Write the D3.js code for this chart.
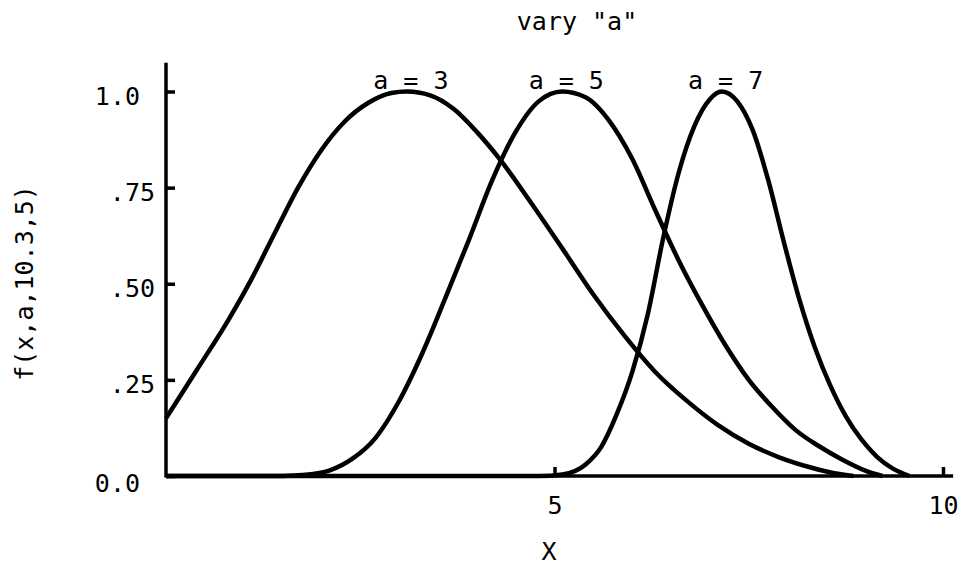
<!DOCTYPE html>
<html>
<head>
<meta charset="utf-8">
<script src="https://cdn.jsdelivr.net/npm/d3@7"></script>
<style>
  body { margin: 0; background: #fff; }
  text { font-family: "DejaVu Sans Mono", monospace; font-size: 25px; fill: #000; }
</style>
</head>
<body>
<script>
// curves, one pair of arrays per value of a
let a3x = [0, 0.4, 0.8, 1.1, 1.4, 1.7, 2.0, 2.3, 2.6, 2.9, 3.1, 3.4, 3.7, 4.0, 4.3, 4.7, 5.1, 5.5, 5.9, 6.3, 6.7, 7.1, 7.5, 7.9, 8.3, 8.6, 8.85]
let a3y = [0.15, 0.277, 0.405, 0.512, 0.632, 0.75, 0.848, 0.922, 0.97, 0.996, 1.0, 0.99, 0.955, 0.895, 0.823, 0.71, 0.592, 0.472, 0.365, 0.27, 0.196, 0.133, 0.084, 0.048, 0.022, 0.007, 0]

let a5x = [0, 1.5, 1.8, 2.1, 2.4, 2.7, 3.0, 3.3, 3.6, 3.9, 4.2, 4.5, 4.8, 5.1, 5.4, 5.7, 6.0, 6.3, 6.6, 6.9, 7.2, 7.5, 7.8, 8.1, 8.4, 8.7, 9.0, 9.22]
let a5y = [0, 0, 0.003, 0.014, 0.045, 0.1, 0.195, 0.32, 0.465, 0.615, 0.77, 0.895, 0.975, 1.0, 0.985, 0.925, 0.825, 0.69, 0.56, 0.445, 0.34, 0.25, 0.18, 0.12, 0.078, 0.043, 0.014, 0]

let a7x = [0, 4.8, 5.1, 5.4, 5.6, 5.8, 6.0, 6.2, 6.4, 6.6, 6.8, 7.0, 7.15, 7.35, 7.55, 7.75, 7.95, 8.15, 8.35, 8.55, 8.75, 8.95, 9.15, 9.35, 9.57]
let a7y = [0, 0, 0.004, 0.03, 0.075, 0.16, 0.27, 0.42, 0.62, 0.79, 0.91, 0.98, 1.0, 0.975, 0.9, 0.77, 0.61, 0.46, 0.335, 0.235, 0.155, 0.095, 0.05, 0.02, 0]

let aValues = [3, 5, 7]
let yTicks = [0, 0.25, 0.5, 0.75, 1]
let yTickLabels = ['0.0', '.25', '.50', '.75', '1.0']
let xTicks = [5, 10]
let xTickLabels = ['5', '10']

let w = 965
let h = 570

let svg = d3.select('body').append('svg').attr('width', w).attr('height', h)

let x = d3.scaleLinear().domain([0, 10]).range([166, 943])
let y = d3.scaleLinear().domain([0, 1]).range([476, 91.5])

let series = [
  { a: aValues[0], xs: a3x, ys: a3y },
  { a: aValues[1], xs: a5x, ys: a5y },
  { a: aValues[2], xs: a7x, ys: a7y }
]

// axes lines run a little past the last tick
svg.append('line')
  .attr('x1', x(0)).attr('x2', x(0))
  .attr('y1', y(0) + 1.5).attr('y2', y(1.075))
  .attr('stroke', '#000').attr('stroke-width', 3.5)

svg.append('line')
  .attr('x1', x(0)).attr('x2', x(10.13))
  .attr('y1', y(0)).attr('y2', y(0))
  .attr('stroke', '#000').attr('stroke-width', 3.5)

let yAxis = svg.append('g')
  .attr('transform', 'translate(' + x(0) + ',0)')
  .call(d3.axisLeft(y).tickValues(yTicks)
    .tickFormat((d, i) => yTickLabels[i])
    .tickSizeInner(-9).tickSizeOuter(0).tickPadding(11))

yAxis.select('.domain').remove()
yAxis.selectAll('line').attr('stroke', '#000').attr('stroke-width', 3.5)
yAxis.selectAll('text')
  .attr('font-family', null).attr('font-size', null)
  .attr('dx', (d, i) => yTickLabels[i][0] == '.' ? 0 : -15)
  .attr('dy', d => d == 0 ? '0.6em' : '0.5em')

let xAxis = svg.append('g')
  .attr('transform', 'translate(0,' + y(0) + ')')
  .call(d3.axisBottom(x).tickValues(xTicks)
    .tickFormat((d, i) => xTickLabels[i])
    .tickSizeInner(-9).tickSizeOuter(0).tickPadding(20))

xAxis.select('.domain').remove()
xAxis.selectAll('line').attr('stroke', '#000').attr('stroke-width', 3.5)
xAxis.selectAll('text').attr('font-family', null).attr('font-size', null)

let line = d3.line()
  .x(d => x(d[0]))
  .y(d => y(d[1]))
  .curve(d3.curveMonotoneX)

svg.selectAll('path.curve')
  .data(series)
  .enter()
  .append('path')
  .attr('class', 'curve')
  .attr('d', s => line(s.xs.map((v, i) => [v, s.ys[i]])))
  .attr('fill', 'none')
  .attr('stroke', '#000')
  .attr('stroke-width', 4.5)
  .attr('stroke-linejoin', 'round')

// label each curve just above its peak
svg.selectAll('text.curve-label')
  .data(series)
  .enter()
  .append('text')
  .attr('class', 'curve-label')
  .attr('x', s => x(s.xs[d3.maxIndex(s.ys)]) + 4)
  .attr('y', y(1) - 3)
  .attr('text-anchor', 'middle')
  .text(s => 'a = ' + s.a)

svg.append('text')
  .attr('x', 577).attr('y', 30)
  .attr('text-anchor', 'middle')
  .text('vary "a"')

svg.append('text')
  .attr('x', 549).attr('y', 560)
  .attr('text-anchor', 'middle')
  .text('X')

svg.append('text')
  .attr('transform', 'translate(33,283) rotate(-90)')
  .attr('text-anchor', 'middle')
  .text('f(x,a,10.3,5)')
</script>
</body>
</html>
